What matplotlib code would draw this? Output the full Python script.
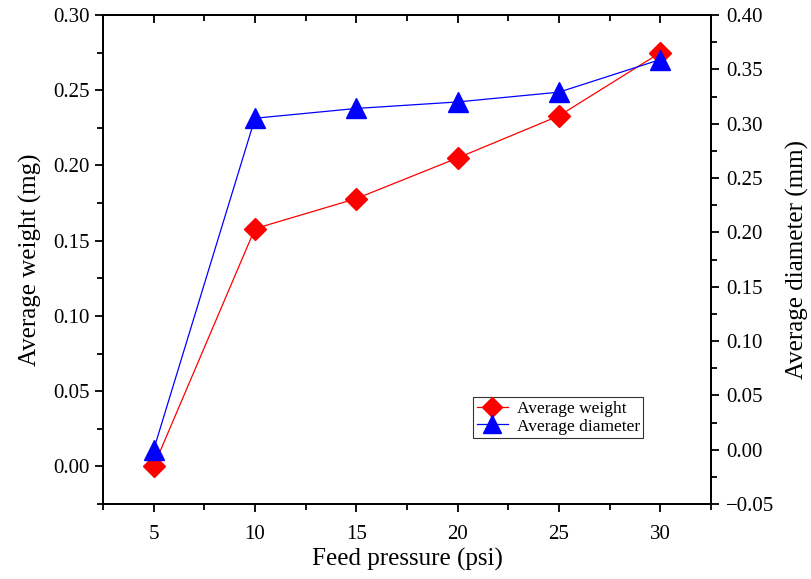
import matplotlib.pyplot as plt
from matplotlib.ticker import MultipleLocator

plt.rcParams['font.family'] = ['Liberation Serif', 'DejaVu Serif']

# Feed pressure runs
pressure = [5, 10, 15, 20, 25, 30]
avg_weight = [0.000, 0.158, 0.178, 0.205, 0.233, 0.275]      # mg
avg_diameter = [0.000, 0.305, 0.314, 0.320, 0.329, 0.359]    # mm

fig = plt.figure(figsize=(8.11, 5.79), dpi=100)
ax = fig.add_axes([0.127, 0.1295, 0.7497, 0.8446])
ax2 = ax.twinx()

l1, = ax.plot(pressure, avg_weight, color='red', lw=0.9, marker='D',
              ms=11, label='Average weight')
l2, = ax2.plot(pressure, avg_diameter, color='blue', lw=0.9, marker='^',
               ms=14, label='Average diameter')

ax.set_xlim(2.5, 32.5)
ax.set_ylim(-0.025, 0.30)
ax2.set_ylim(-0.05, 0.40)

ax.xaxis.set_major_locator(MultipleLocator(5))
ax.xaxis.set_minor_locator(MultipleLocator(2.5))
ax.yaxis.set_major_locator(MultipleLocator(0.05))
ax.yaxis.set_minor_locator(MultipleLocator(0.025))
ax2.yaxis.set_major_locator(MultipleLocator(0.05))
ax2.yaxis.set_minor_locator(MultipleLocator(0.025))

ax.yaxis.set_major_formatter(lambda v, p: f'{v:.2f}')
ax2.yaxis.set_major_formatter(lambda v, p: f'{v:.2f}'.replace('-', '\u2212'))

for a in (ax, ax2):
    a.tick_params(which='both', direction='out', labelsize=15, width=1.3)
    a.tick_params(which='major', length=6)
    a.tick_params(which='minor', length=4)
    for s in a.spines.values():
        s.set_linewidth(1.3)
ax.tick_params(axis='x', which='major', pad=9)
ax2.tick_params(axis='y', which='major', pad=5)

# top ticks point inward, no labels
sec = ax.secondary_xaxis('top')
sec.xaxis.set_major_locator(MultipleLocator(5))
sec.xaxis.set_minor_locator(MultipleLocator(2.5))
sec.tick_params(which='both', direction='in', labeltop=False, width=1.3)
sec.tick_params(which='major', length=6)
sec.tick_params(which='minor', length=4)
sec.spines['top'].set_linewidth(1.3)

ax.set_xlabel('Feed pressure (psi)', fontsize=18, labelpad=3)
ax.set_ylabel('Average weight (mg)', fontsize=18, labelpad=8)
ax2.set_ylabel('Average diameter (mm)', fontsize=18, labelpad=8)

leg = ax.legend(handles=[l1, l2], loc='lower left',
                bbox_to_anchor=(0.609, 0.135), borderaxespad=0,
                fontsize=12.5, frameon=True,
                fancybox=False, edgecolor='black', handlelength=1.8,
                borderpad=0.2, labelspacing=0.1, handletextpad=0.5,
                markerscale=0.9)
leg.get_frame().set_linewidth(0.8)

fig.savefig('out.png', dpi=100)
